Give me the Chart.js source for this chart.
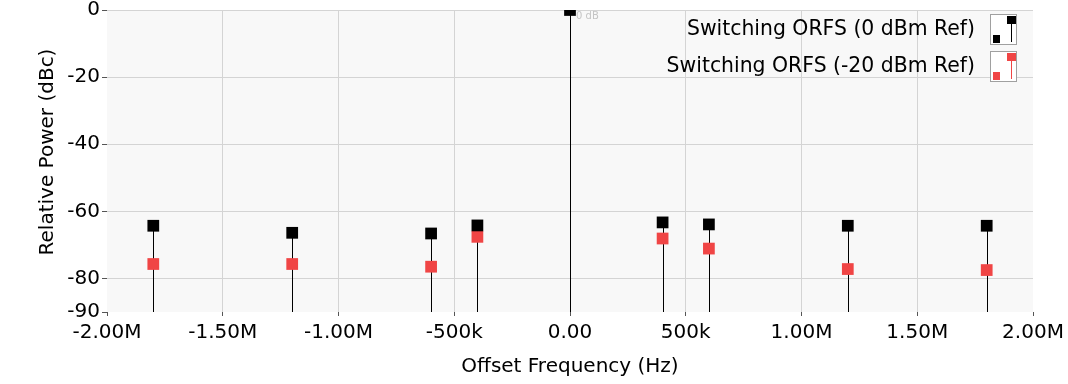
<!DOCTYPE html>
<html>
<head>
<meta charset="utf-8">
<script src="https://cdn.jsdelivr.net/npm/chart.js@4"></script>
<style>
  html, body { margin: 0; padding: 0; background: #fff; }
  #wrap { width: 1068px; height: 384px; }
</style>
</head>
<body>
<div id="wrap"><canvas id="chart" width="1068" height="384"></canvas></div>
<script>
// ─── Data ─────────────────────────────────────────────────────────────────────

const freqs    = [-1.8e6, -1.2e6, -600e3, -400e3, 0, 400e3, 600e3, 1.2e6, 1.8e6];
const ref0dBm  = [-64.3, -66.4, -66.6, -64.2, 0, -63.3, -63.9, -64.3, -64.3];
const ref20dBm = [-75.7, -75.7, -76.5, -67.6, null, -68.1, -71.1, -77.2, -77.5];

const xTickValues = [-2e6, -1.5e6, -1e6, -5e5, 0, 5e5, 1e6, 1.5e6, 2e6];
const xTickLabels = ['-2.00M', '-1.50M', '-1.00M', '-500k', '0.00', '500k', '1.00M', '1.50M', '2.00M'];
const yTickValues = [0, -20, -40, -60, -80, -90];
const yTickLabels = ['0', '-20', '-40', '-60', '-80', '-90'];

const seriesLabels = ['Switching ORFS (0 dBm Ref)', 'Switching ORFS (-20 dBm Ref)'];
const carrierNote  = '0 dB';

// ─── Styles ───────────────────────────────────────────────────────────────────

const COLORS = {
  ref0:    '#000000',
  ref20:   '#f04545',
  plotBg:  '#f8f8f8',
  grid:    '#d4d4d4',
  tick:    '#555555',
  text:    '#000000',
  note:    '#c4c4c4',
  iconBox: '#a0a0a0',
};
const FONT = "'DejaVu Sans', Verdana, sans-serif";

const toPoints = ys => freqs.map((x, i) => ({ x, y: ys[i] })).filter(p => p.y !== null);

// ─── Plugins ──────────────────────────────────────────────────────────────────

// plot background + stems from each marker to the bottom of the axis
const stemPlugin = {
  id: 'stems',
  beforeDatasetsDraw(chart) {
    const { ctx, chartArea: a, scales: { y } } = chart;
    ctx.save();
    ctx.lineWidth = 1;
    const base = y.getPixelForValue(y.min);
    // later datasets first so dataset 0 ends up on top
    for (let d = chart.data.datasets.length - 1; d >= 0; d--) {
      const meta = chart.getDatasetMeta(d);
      ctx.strokeStyle = COLORS.ref0;
      meta.data.forEach(pt => {
        const px = Math.round(pt.x) + 0.5;
        ctx.beginPath();
        ctx.moveTo(px, Math.max(pt.y, a.top));
        ctx.lineTo(px, base);
        ctx.stroke();
      });
    }
    ctx.restore();
  },
  beforeDraw(chart) {
    const { ctx, chartArea: a } = chart;
    ctx.save();
    ctx.fillStyle = COLORS.plotBg;
    ctx.fillRect(a.left, a.top, a.right - a.left, a.bottom - a.top);
    ctx.restore();
  },
};

// axis titles, carrier note, and the boxed legend in the top-right corner
const annotatePlugin = {
  id: 'annotate',
  afterDraw(chart) {
    const { ctx, chartArea: a } = chart;
    ctx.save();
    ctx.fillStyle = COLORS.text;
    ctx.font = `20px ${FONT}`;
    ctx.textAlign = 'center';
    ctx.textBaseline = 'middle';
    ctx.fillText('Offset Frequency (Hz)', (a.left + a.right) / 2, 367);
    ctx.save();
    ctx.translate(48, 152);
    ctx.rotate(-Math.PI / 2);
    ctx.fillText('Relative Power (dBc)', 0, 0);
    ctx.restore();

    // carrier note next to the 0 Hz marker
    const meta = chart.getDatasetMeta(0);
    const pt = meta.data[freqs.indexOf(0)];
    if (pt) {
      ctx.font = `10px ${FONT}`;
      ctx.fillStyle = COLORS.note;
      ctx.textAlign = 'left';
      ctx.fillText(carrierNote, pt.x + 6, pt.y + 6);
    }

    // legend
    const colors = [COLORS.ref0, COLORS.ref20];
    seriesLabels.forEach((label, i) => {
      const top = 14 + i * 37;
      ctx.font = `20.4px ${FONT}`;
      ctx.fillStyle = COLORS.text;
      ctx.textAlign = 'right';
      ctx.textBaseline = 'middle';
      ctx.fillText(label, 975, top + 16);

      const bx = 990, bw = 27, bh = 31;
      ctx.fillStyle = '#ffffff';
      ctx.fillRect(bx, top, bw, bh);
      ctx.strokeStyle = COLORS.iconBox;
      ctx.lineWidth = 1;
      ctx.strokeRect(bx + 0.5, top + 0.5, bw - 1, bh - 1);

      ctx.fillStyle = colors[i];
      ctx.fillRect(bx + 3, top + 21, 7, 8);
      ctx.fillRect(bx + 17, top + 2, 9, 8);
      ctx.strokeStyle = colors[i];
      ctx.beginPath();
      ctx.moveTo(bx + 21.5, top + 10);
      ctx.lineTo(bx + 21.5, top + 28);
      ctx.stroke();
    });
    ctx.restore();
  },
};

// ─── Chart ────────────────────────────────────────────────────────────────────

const edgeHidden = (c, color) =>
  (c.tick && (c.tick.value === c.scale.min || c.tick.value === c.scale.max))
    ? 'rgba(0,0,0,0)' : color;

new Chart(document.getElementById('chart'), {
  type: 'scatter',
  data: {
    datasets: [
      {
        label: seriesLabels[0],
        data: toPoints(ref0dBm),
        backgroundColor: COLORS.ref0,
        borderColor: COLORS.ref0,
        pointStyle: 'rect',
        pointRadius: 8.3,
        pointBorderWidth: 0,
        clip: 0,
      },
      {
        label: seriesLabels[1],
        data: toPoints(ref20dBm),
        backgroundColor: COLORS.ref20,
        borderColor: COLORS.ref20,
        pointStyle: 'rect',
        pointRadius: 8.3,
        pointBorderWidth: 0,
        clip: 0,
      },
    ],
  },
  options: {
    responsive: false,
    animation: false,
    layout: { padding: { left: 0, right: 35, top: 10, bottom: 0 } },
    plugins: {
      legend: { display: false },
      tooltip: { enabled: false },
    },
    scales: {
      x: {
        type: 'linear',
        min: -2e6,
        max: 2e6,
        afterBuildTicks: s => { s.ticks = xTickValues.map(value => ({ value })); },
        afterFit: s => { s.height = 72; s.paddingLeft = 0; s.paddingRight = 0; },
        border: { display: false },
        grid: {
          color: c => edgeHidden(c, COLORS.grid),
          tickColor: COLORS.tick,
          tickLength: 4,
        },
        ticks: {
          color: COLORS.text,
          font: { family: FONT, size: 20, lineHeight: 1 },
          padding: 7,
          maxRotation: 0,
          autoSkip: false,
          callback: v => xTickLabels[xTickValues.indexOf(v)],
        },
      },
      y: {
        type: 'linear',
        min: -90,
        max: 0,
        afterBuildTicks: s => { s.ticks = yTickValues.map(value => ({ value })); },
        afterFit: s => { s.width = 107; s.paddingTop = 0; s.paddingBottom = 0; },
        border: { display: false },
        grid: {
          color: c => (c.tick && c.tick.value === -90) ? 'rgba(0,0,0,0)' : COLORS.grid,
          tickColor: COLORS.tick,
          tickLength: 5,
        },
        ticks: {
          color: COLORS.text,
          font: { family: FONT, size: 20, lineHeight: 1 },
          padding: 2,
          autoSkip: false,
          callback: v => yTickLabels[yTickValues.indexOf(v)],
        },
      },
    },
  },
  plugins: [stemPlugin, annotatePlugin],
});
</script>
</body>
</html>
